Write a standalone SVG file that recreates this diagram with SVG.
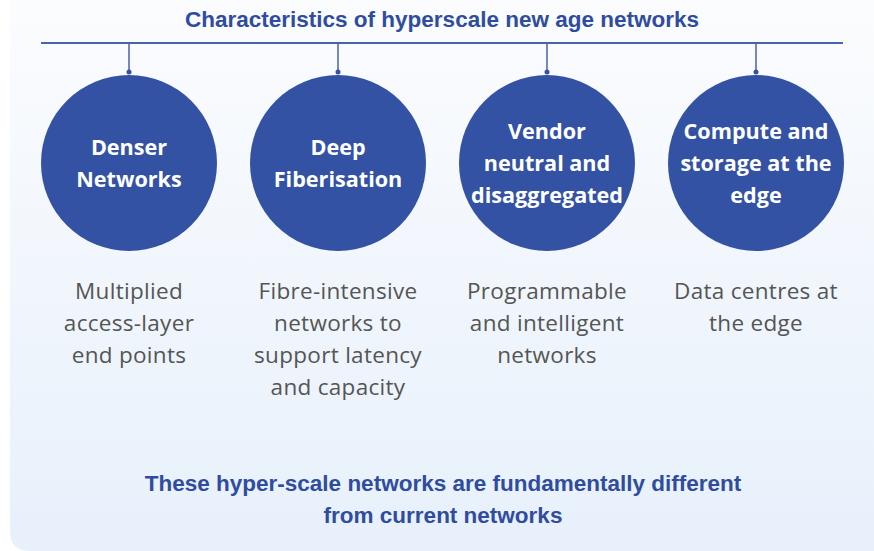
<svg xmlns="http://www.w3.org/2000/svg" width="874" height="551" viewBox="0 0 874 551">
<defs>
<linearGradient id="bg" x1="0" y1="0" x2="0" y2="1">
<stop offset="0" stop-color="#fbfcfe"/>
<stop offset="1" stop-color="#e7f0fb"/>
</linearGradient>
</defs>
<style>
.title{font-family:"Liberation Sans",Arial,sans-serif;font-weight:bold;font-size:22.5px;fill:#2f4c9f;text-anchor:middle}
.node circle{fill:#3452a3}
.lbl{font-family:"Open Sans","Liberation Sans",sans-serif;font-weight:bold;font-size:21.6px;fill:#ffffff;text-anchor:middle}
.desc{font-family:"Open Sans","Liberation Sans",sans-serif;font-size:22.5px;letter-spacing:0.3px;fill:#555555;text-anchor:middle}
.conn line{stroke:#4862ab;stroke-width:2}
.conn .v{stroke-width:1.5}
.conn circle{fill:#3452a3}
</style>
<rect width="874" height="551" fill="#ffffff"/>
<path d="M10 0 H874 V551 H30 Q10 551 10 531 Z" fill="url(#bg)"/>
<text class="title" x="442" y="27">Characteristics of hyperscale new age networks</text>
<g id="connectors" class="conn">
<line x1="41" y1="43" x2="843" y2="43"/>
<line class="v" x1="129" y1="43" x2="129" y2="72"/>
<line class="v" x1="338" y1="43" x2="338" y2="72"/>
<line class="v" x1="547" y1="43" x2="547" y2="72"/>
<line class="v" x1="756" y1="43" x2="756" y2="72"/>
<circle cx="129" cy="72" r="2.5"/>
<circle cx="338" cy="72" r="2.5"/>
<circle cx="547" cy="72" r="2.5"/>
<circle cx="756" cy="72" r="2.5"/>
</g>
<g id="n1" class="node">
<circle cx="129" cy="163" r="88"/>
<text class="lbl" x="129" y="155">Denser</text>
<text class="lbl" x="129" y="187">Networks</text>
<text class="desc" x="129" y="299">Multiplied</text>
<text class="desc" x="129" y="331">access-layer</text>
<text class="desc" x="129" y="363">end points</text>
</g>
<g id="n2" class="node">
<circle cx="338" cy="163" r="88"/>
<text class="lbl" x="338" y="155">Deep</text>
<text class="lbl" x="338" y="187">Fiberisation</text>
<text class="desc" x="338" y="299">Fibre-intensive</text>
<text class="desc" x="338" y="331">networks to</text>
<text class="desc" x="338" y="363">support latency</text>
<text class="desc" x="338" y="395">and capacity</text>
</g>
<g id="n3" class="node">
<circle cx="547" cy="163" r="88"/>
<text class="lbl" x="547" y="139">Vendor</text>
<text class="lbl" x="547" y="171">neutral and</text>
<text class="lbl" x="547" y="203">disaggregated</text>
<text class="desc" x="547" y="299">Programmable</text>
<text class="desc" x="547" y="331">and intelligent</text>
<text class="desc" x="547" y="363">networks</text>
</g>
<g id="n4" class="node">
<circle cx="756" cy="163" r="88"/>
<text class="lbl" x="756" y="139">Compute and</text>
<text class="lbl" x="756" y="171">storage at the</text>
<text class="lbl" x="756" y="203">edge</text>
<text class="desc" x="756" y="299">Data centres at</text>
<text class="desc" x="756" y="331">the edge</text>
</g>
<text class="title" x="443" y="491">These hyper-scale networks are fundamentally different</text>
<text class="title" x="443" y="523">from current networks</text>
</svg>
